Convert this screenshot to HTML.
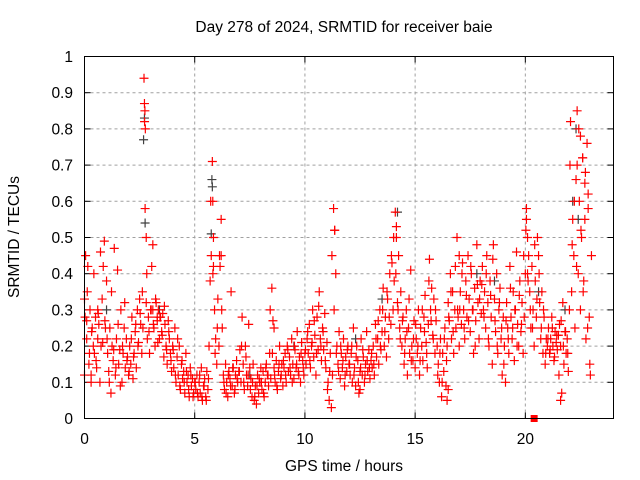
<!DOCTYPE html>
<html><head><meta charset="utf-8"><style>
body{margin:0;background:#fff}
svg{display:block;font-family:"Liberation Sans",sans-serif;font-size:15.5px}
</style></head><body>
<svg id="chart" width="640" height="480">
<rect x="0" y="0" width="640" height="480" fill="#fff"/>
<text x="344" y="32" text-anchor="middle">Day 278 of 2024, SRMTID for receiver baie</text>
<text x="344" y="471" text-anchor="middle">GPS time / hours</text>
<text transform="translate(19,237) rotate(-90)" text-anchor="middle">SRMTID / TECUs</text>
<g id="grid"></g><g id="ticks"></g><g id="marks"></g>
<rect x="84.5" y="56.5" width="529" height="362" fill="none" stroke="#000" stroke-width="1"/>
</svg>
<script>
const xTicks=[0,5,10,15,20];
const yTicks=[0,0.1,0.2,0.3,0.4,0.5,0.6,0.7,0.8,0.9,1];
const yTickLabels=["0","0.1","0.2","0.3","0.4","0.5","0.6","0.7","0.8","0.9","1"];
const sampleStart=0.05, sampleStep=0.05;
const redV=[
0.45,0.22,0.42,0.15,0.3,0.12,0.25,0.2,0.18,0.28,0.14,0.22,0.26,0.1,0.2,0.33,0.42,0.49,0.25,0.38,
0.18,0.13,0.25,0.07,0.2,0.16,0.47,0.12,0.22,0.41,0.15,0.19,0.3,0.1,0.18,0.25,0.14,0.22,0.17,0.12,
0.2,0.15,0.28,0.11,0.18,0.24,0.14,0.3,0.21,0.33,0.26,0.18,0.25,0.94,0.58,0.32,0.22,0.28,0.18,0.3,
0.42,0.48,0.25,0.2,0.32,0.27,0.3,0.22,0.28,0.24,0.29,0.17,0.26,0.2,0.15,0.27,0.22,0.18,0.13,0.2,
0.14,0.25,0.1,0.17,0.12,0.2,0.08,0.15,0.11,0.13,0.07,0.18,0.1,0.12,0.06,0.14,0.09,0.11,0.07,0.1,
0.08,0.12,0.06,0.1,0.07,0.14,0.05,0.09,0.11,0.06,0.13,0.08,0.2,0.38,0.45,0.71,0.5,0.3,0.22,0.15,
0.33,0.2,0.42,0.55,0.25,0.12,0.08,0.15,0.1,0.06,0.13,0.11,0.35,0.09,0.14,0.07,0.12,0.16,0.1,0.13,
0.19,0.1,0.28,0.15,0.08,0.2,0.12,0.09,0.26,0.14,0.11,0.06,0.15,0.05,0.09,0.04,0.12,0.07,0.1,0.14,
0.08,0.13,0.06,0.1,0.15,0.12,0.09,0.18,0.11,0.36,0.27,0.14,0.1,0.16,0.08,0.13,0.2,0.11,0.15,0.09,
0.14,0.18,0.1,0.2,0.13,0.17,0.12,0.22,0.15,0.11,0.19,0.14,0.24,0.13,0.17,0.1,0.21,0.16,0.12,0.18,
0.15,0.22,0.18,0.26,0.14,0.2,0.3,0.17,0.23,0.12,0.28,0.19,0.35,0.22,0.16,0.25,0.19,0.29,0.14,0.21,
0.1,0.05,0.18,0.03,0.12,0.58,0.52,0.4,0.2,0.15,0.24,0.11,0.18,0.14,0.22,0.09,0.17,0.13,0.2,0.15,
0.12,0.18,0.1,0.25,0.14,0.09,0.2,0.16,0.07,0.13,0.22,0.12,0.17,0.1,0.15,0.24,0.13,0.19,0.11,0.16,
0.14,0.2,0.12,0.26,0.17,0.22,0.15,0.3,0.19,0.24,0.36,0.2,0.28,0.17,0.33,0.22,0.4,0.26,0.43,0.3,
0.38,0.57,0.5,0.32,0.45,0.25,0.35,0.2,0.28,0.15,0.22,0.3,0.12,0.25,0.18,0.41,0.2,0.16,0.27,0.14,
0.22,0.18,0.3,0.12,0.25,0.2,0.16,0.28,0.34,0.21,0.14,0.26,0.44,0.3,0.36,0.23,0.33,0.18,0.27,0.2,
0.15,0.1,0.22,0.06,0.18,0.13,0.25,0.09,0.2,0.32,0.27,0.4,0.22,0.35,0.18,0.3,0.25,0.5,0.28,0.2,
0.35,0.26,0.43,0.3,0.22,0.38,0.28,0.45,0.33,0.24,0.4,0.3,0.18,0.36,0.27,0.48,0.32,0.22,0.38,0.29,
0.42,0.3,0.35,0.25,0.45,0.32,0.2,0.38,0.28,0.15,0.48,0.33,0.24,0.4,0.18,0.3,0.36,0.22,0.12,0.28,
0.2,0.1,0.32,0.25,0.18,0.42,0.28,0.22,0.35,0.16,0.3,0.46,0.26,0.2,0.38,0.24,0.32,0.18,0.28,0.4,
0.58,0.5,0.45,0.35,0.25,0.42,0.3,0.2,0.38,0.28,0.5,0.45,0.32,0.22,0.35,0.18,0.28,0.15,0.22,0.2,
0.25,0.18,0.22,0.28,0.2,0.16,0.24,0.21,0.19,0.23,0.26,0.2,0.07,0.32,0.15,0.24,0.18,0.22,0.13,0.3,
0.82,0.35,0.55,0.45,0.25,0.66,0.85,0.4,0.6,0.3,0.5,0.72,0.38,0.65,0.22,0.76,0.58,0.28,0.12,0.45];
const sample2Start=0.025, sample2Step=0.1;
const redV2=[
0.28,0.35,0.18,0.24,0.4,0.16,0.29,0.46,0.21,0.27,
0.22,0.1,0.35,0.19,0.14,0.26,0.09,0.2,0.32,0.16,
0.13,0.22,0.17,0.26,0.2,0.29,0.35,0.82,0.4,0.24,
0.3,0.26,0.33,0.21,0.28,0.23,0.31,0.19,0.24,0.16,
0.19,0.12,0.22,0.09,0.16,0.1,0.13,0.08,0.12,0.06,
0.1,0.07,0.12,0.06,0.09,0.05,0.11,0.6,0.4,0.18,
0.25,0.45,0.3,0.1,0.07,0.12,0.09,0.14,0.08,0.11,
0.13,0.2,0.1,0.17,0.12,0.08,0.1,0.06,0.09,0.11,
0.1,0.07,0.14,0.12,0.3,0.18,0.12,0.09,0.15,0.12,
0.16,0.12,0.19,0.14,0.1,0.2,0.15,0.12,0.18,0.14,
0.19,0.24,0.16,0.21,0.27,0.18,0.31,0.2,0.24,0.16,
0.08,0.13,0.45,0.3,0.18,0.13,0.2,0.16,0.12,0.19,
0.15,0.2,0.12,0.17,0.1,0.14,0.19,0.12,0.16,0.14,
0.18,0.15,0.22,0.27,0.2,0.3,0.24,0.35,0.28,0.45,
0.5,0.4,0.3,0.22,0.27,0.18,0.24,0.33,0.16,0.22,
0.26,0.2,0.16,0.3,0.24,0.18,0.38,0.27,0.22,0.3,
0.12,0.18,0.1,0.22,0.16,0.28,0.35,0.24,0.42,0.3,
0.3,0.4,0.25,0.34,0.27,0.42,0.3,0.2,0.37,0.33,
0.37,0.28,0.4,0.22,0.34,0.44,0.27,0.2,0.32,0.25,
0.15,0.27,0.22,0.36,0.25,0.3,0.2,0.34,0.26,0.45,
0.52,0.38,0.3,0.25,0.48,0.33,0.4,0.25,0.3,0.18,
0.22,0.19,0.25,0.17,0.23,0.12,0.27,0.2,0.24,0.18,
0.7,0.48,0.6,0.42,0.8,0.52,0.35,0.68,0.25,0.15];
const extraT=[0.0,0.0,0.1,0.3,0.6,2.72,2.74,2.76,2.8,5.82,5.85,6.2,11.35,12.5,14.15,21.6,22.5,22.6,22.35,22.7,22.85,20.05,20.1,3.1,3.3,17.0,8.6,16.45,16.5];
const extraV=[0.33,0.12,0.27,0.1,0.3,0.87,0.85,0.8,0.5,0.6,0.42,0.45,0.52,0.08,0.53,0.05,0.78,0.72,0.7,0.55,0.62,0.55,0.4,0.3,0.28,0.45,0.25,0.05,0.08];
const grayT=[2.68,2.72,2.75,5.78,5.8,5.75,14.2,22.3,22.4,22.15,3.4,9.5,12.3,17.8,20.6,1.0,7.5,13.5,18.6,21.8];
const grayV=[0.77,0.83,0.54,0.66,0.64,0.51,0.57,0.8,0.55,0.6,0.3,0.2,0.22,0.4,0.35,0.3,0.12,0.33,0.38,0.3];
const squareT=[20.4], squareV=[0];

const NS="http://www.w3.org/2000/svg";
const X0=84.5,X1=613.5,Y0=418.5,Y1=56.5,XMAX=24;
const xs=t=>X0+(X1-X0)*t/XMAX;
const ys=v=>Y0-(Y0-Y1)*v;
function mk(tag,attrs,parent){const e=document.createElementNS(NS,tag);for(const k in attrs)e.setAttribute(k,attrs[k]);parent.appendChild(e);return e;}
const grid=document.getElementById('grid'),ticks=document.getElementById('ticks'),marks=document.getElementById('marks');
xTicks.forEach(t=>{const x=xs(t);
 if(t>0){const g=mk('line',{x1:x,x2:x,y1:Y0,y2:Y1,stroke:'#a0a0a0','stroke-dasharray':'3,3'},grid);
 
 }
 mk('line',{x1:x,x2:x,y1:Y0,y2:Y0-6,stroke:'#000'},ticks);
 mk('line',{x1:x,x2:x,y1:Y1,y2:Y1+6,stroke:'#000'},ticks);
 const l=mk('text',{x:x,y:444,'text-anchor':'middle'},ticks);l.textContent=t;
 
 
});
yTicks.forEach((v,i)=>{const y=ys(v);
 if(v>0&&v<1){const g=mk('line',{x1:X0,x2:X1,y1:y,y2:y,stroke:'#a0a0a0','stroke-dasharray':'3,3'},grid);
 
 }
 mk('line',{x1:X0,x2:X0+6,y1:y,y2:y,stroke:'#000'},ticks);
 mk('line',{x1:X1,x2:X1-6,y1:y,y2:y,stroke:'#000'},ticks);
 const l=mk('text',{x:73,y:y+5.5,'text-anchor':'end'},ticks);l.textContent=yTickLabels[i];
 
 
});
function plus(t,v,color,name){const x=xs(t),y=ys(v);
 const p=mk('path',{d:`M${x-4.5},${y}H${x+4.5}M${x},${y-4.5}V${y+4.5}`,stroke:color,'stroke-width':1.2,fill:'none'},marks);
 
 
}
grayT.forEach((t,i)=>plus(t,grayV[i],'#404040','gray-point'));
redV.forEach((v,i)=>plus(sampleStart+i*sampleStep,v,'#ff0000','red-point'));
redV2.forEach((v,i)=>plus(sample2Start+i*sample2Step,v,'#ff0000','red-point'));
extraT.forEach((t,i)=>plus(t,extraV[i],'#ff0000','red-point'));
squareT.forEach((t,i)=>{const s=mk('rect',{x:xs(t)-3.5,y:ys(squareV[i])-3.5,width:7,height:7,fill:'#ff0000'},marks);
 
 });
</script>
</body></html>
